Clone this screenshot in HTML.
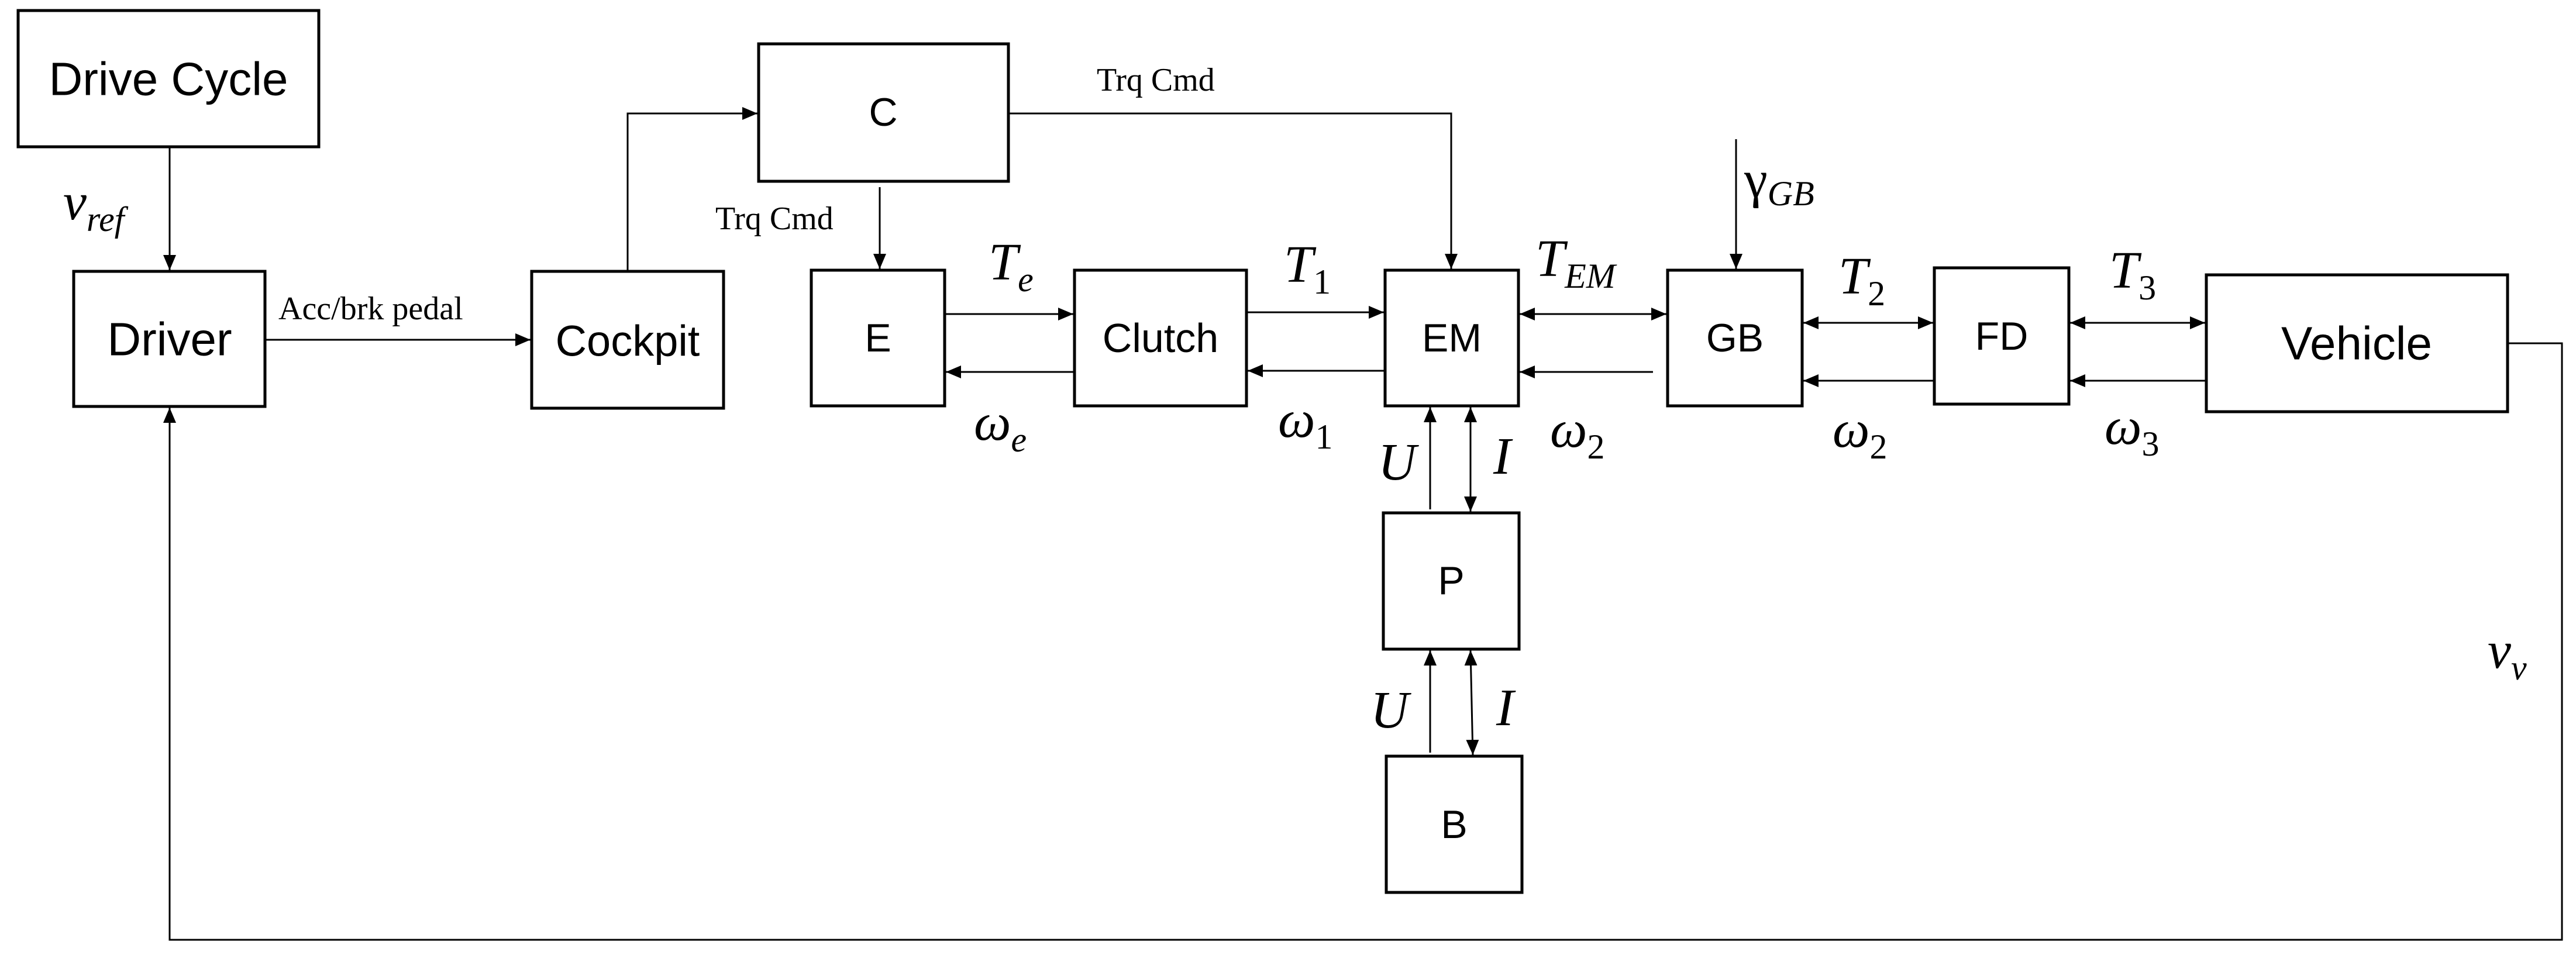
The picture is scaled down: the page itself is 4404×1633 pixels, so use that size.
<!DOCTYPE html>
<html><head><meta charset="utf-8"><style>
html,body{margin:0;padding:0;background:#fff;}
svg{display:block;}
.b{font-family:"Liberation Sans",sans-serif;font-size:72px;text-anchor:middle;dominant-baseline:central;}
.m{font-family:"Liberation Serif",serif;font-style:italic;font-size:90px;}
.s{font-size:60px;}
.u{font-size:60px;font-style:normal;}
.t{font-family:"Liberation Serif",serif;font-size:56px;}
</style></head><body>
<svg width="4404" height="1633" viewBox="0 0 4404 1633" xmlns="http://www.w3.org/2000/svg">
<defs>
<marker id="h" viewBox="0 0 10 10" refX="10" refY="5" markerWidth="26" markerHeight="22" markerUnits="userSpaceOnUse" orient="auto-start-reverse" preserveAspectRatio="none"><path d="M0,0 L10,5 L0,10 z" fill="#000"/></marker>
</defs>
<g fill="#fff" stroke="#000" stroke-width="5">
<rect x="31" y="18" width="514" height="233"/>
<rect x="126" y="464" width="327" height="231"/>
<rect x="909" y="464" width="328" height="234"/>
<rect x="1297" y="75" width="427" height="235"/>
<rect x="1387" y="462" width="228" height="232"/>
<rect x="1837" y="462" width="294" height="232"/>
<rect x="2368" y="462" width="228" height="232"/>
<rect x="2851" y="462" width="230" height="232"/>
<rect x="3307" y="458" width="230" height="233"/>
<rect x="3772" y="470" width="515" height="234"/>
<rect x="2365" y="877" width="232" height="233"/>
<rect x="2370" y="1293" width="232" height="233"/>
</g>
<g fill="none" stroke="#000" stroke-width="3">
<line x1="290" y1="251" x2="290" y2="462" marker-end="url(#h)"/>
<line x1="453" y1="581" x2="907" y2="581" marker-end="url(#h)"/>
<polyline points="1073,464 1073,194 1295,194" marker-end="url(#h)"/>
<line x1="1504" y1="320" x2="1504" y2="460" marker-end="url(#h)"/>
<polyline points="1724,194 2481,194 2481,460" marker-end="url(#h)"/>
<line x1="2968" y1="238" x2="2968" y2="460" marker-end="url(#h)"/>
<line x1="1615" y1="537" x2="1835" y2="537" marker-end="url(#h)"/>
<line x1="1837" y1="636" x2="1617" y2="636" marker-end="url(#h)"/>
<line x1="2131" y1="534" x2="2366" y2="534" marker-end="url(#h)"/>
<line x1="2366" y1="634" x2="2133" y2="634" marker-end="url(#h)"/>
<line x1="2598" y1="537" x2="2849" y2="537" marker-start="url(#h)" marker-end="url(#h)"/>
<line x1="2826" y1="636" x2="2598" y2="636" marker-end="url(#h)"/>
<line x1="3083" y1="552" x2="3305" y2="552" marker-start="url(#h)" marker-end="url(#h)"/>
<line x1="3307" y1="651" x2="3083" y2="651" marker-end="url(#h)"/>
<line x1="3539" y1="552" x2="3770" y2="552" marker-start="url(#h)" marker-end="url(#h)"/>
<line x1="3772" y1="651" x2="3539" y2="651" marker-end="url(#h)"/>
<line x1="2445" y1="871" x2="2445" y2="696" marker-end="url(#h)"/>
<line x1="2514" y1="696" x2="2514" y2="875" marker-start="url(#h)" marker-end="url(#h)"/>
<line x1="2445" y1="1287" x2="2445" y2="1112" marker-end="url(#h)"/>
<line x1="2514" y1="1112" x2="2518" y2="1291" marker-start="url(#h)" marker-end="url(#h)"/>
<polyline points="4287,587 4380,587 4380,1607 290,1607 290,697" marker-end="url(#h)"/>
</g>
<g class="b">
<text x="288" y="135" font-size="80">Drive Cycle</text>
<text x="290" y="580" font-size="80">Driver</text>
<text x="1073" y="583" font-size="74">Cockpit</text>
<text x="1510" y="192" font-size="68">C</text>
<text x="1501" y="578" font-size="68">E</text>
<text x="1984" y="578" font-size="70">Clutch</text>
<text x="2482" y="578" font-size="68">EM</text>
<text x="2966" y="578" font-size="68">GB</text>
<text x="3422" y="575" font-size="68">FD</text>
<text x="4029" y="587" font-size="80">Vehicle</text>
<text x="2481" y="993" font-size="68">P</text>
<text x="2486" y="1410" font-size="68">B</text>
</g>
<g class="t">
<text x="476" y="546">Acc/brk pedal</text>
<text x="1223" y="392">Trq Cmd</text>
<text x="1875" y="155">Trq Cmd</text>
</g>
<g class="m">
<text x="108" y="375">v<tspan class="s" dy="20">ref</tspan></text>
<text x="1690" y="478">T<tspan class="s" dy="20">e</tspan></text>
<text x="1665" y="752">ω<tspan class="s" dy="20">e</tspan></text>
<text x="2195" y="482">T<tspan class="u" dy="20">1</tspan></text>
<text x="2625" y="472">T<tspan class="s" dy="20">EM</tspan></text>
<text x="3143" y="502">T<tspan class="u" dy="20">2</tspan></text>
<text x="3606" y="492">T<tspan class="u" dy="20">3</tspan></text>
<text x="2185" y="747">ω<tspan class="u" dy="20">1</tspan></text>
<text x="2650" y="764">ω<tspan class="u" dy="20">2</tspan></text>
<text x="3133" y="764">ω<tspan class="u" dy="20">2</tspan></text>
<text x="3598" y="759">ω<tspan class="u" dy="20">3</tspan></text>
<text x="2982" y="337" font-style="normal">γ<tspan class="s" font-style="italic" dy="14">GB</tspan></text>
<text x="2356" y="820">U</text>
<text x="2553" y="810">I</text>
<text x="2343" y="1244">U</text>
<text x="2558" y="1240">I</text>
<text x="4253" y="1142">v<tspan class="s" dy="20">v</tspan></text>
</g>
</svg>
</body></html>
